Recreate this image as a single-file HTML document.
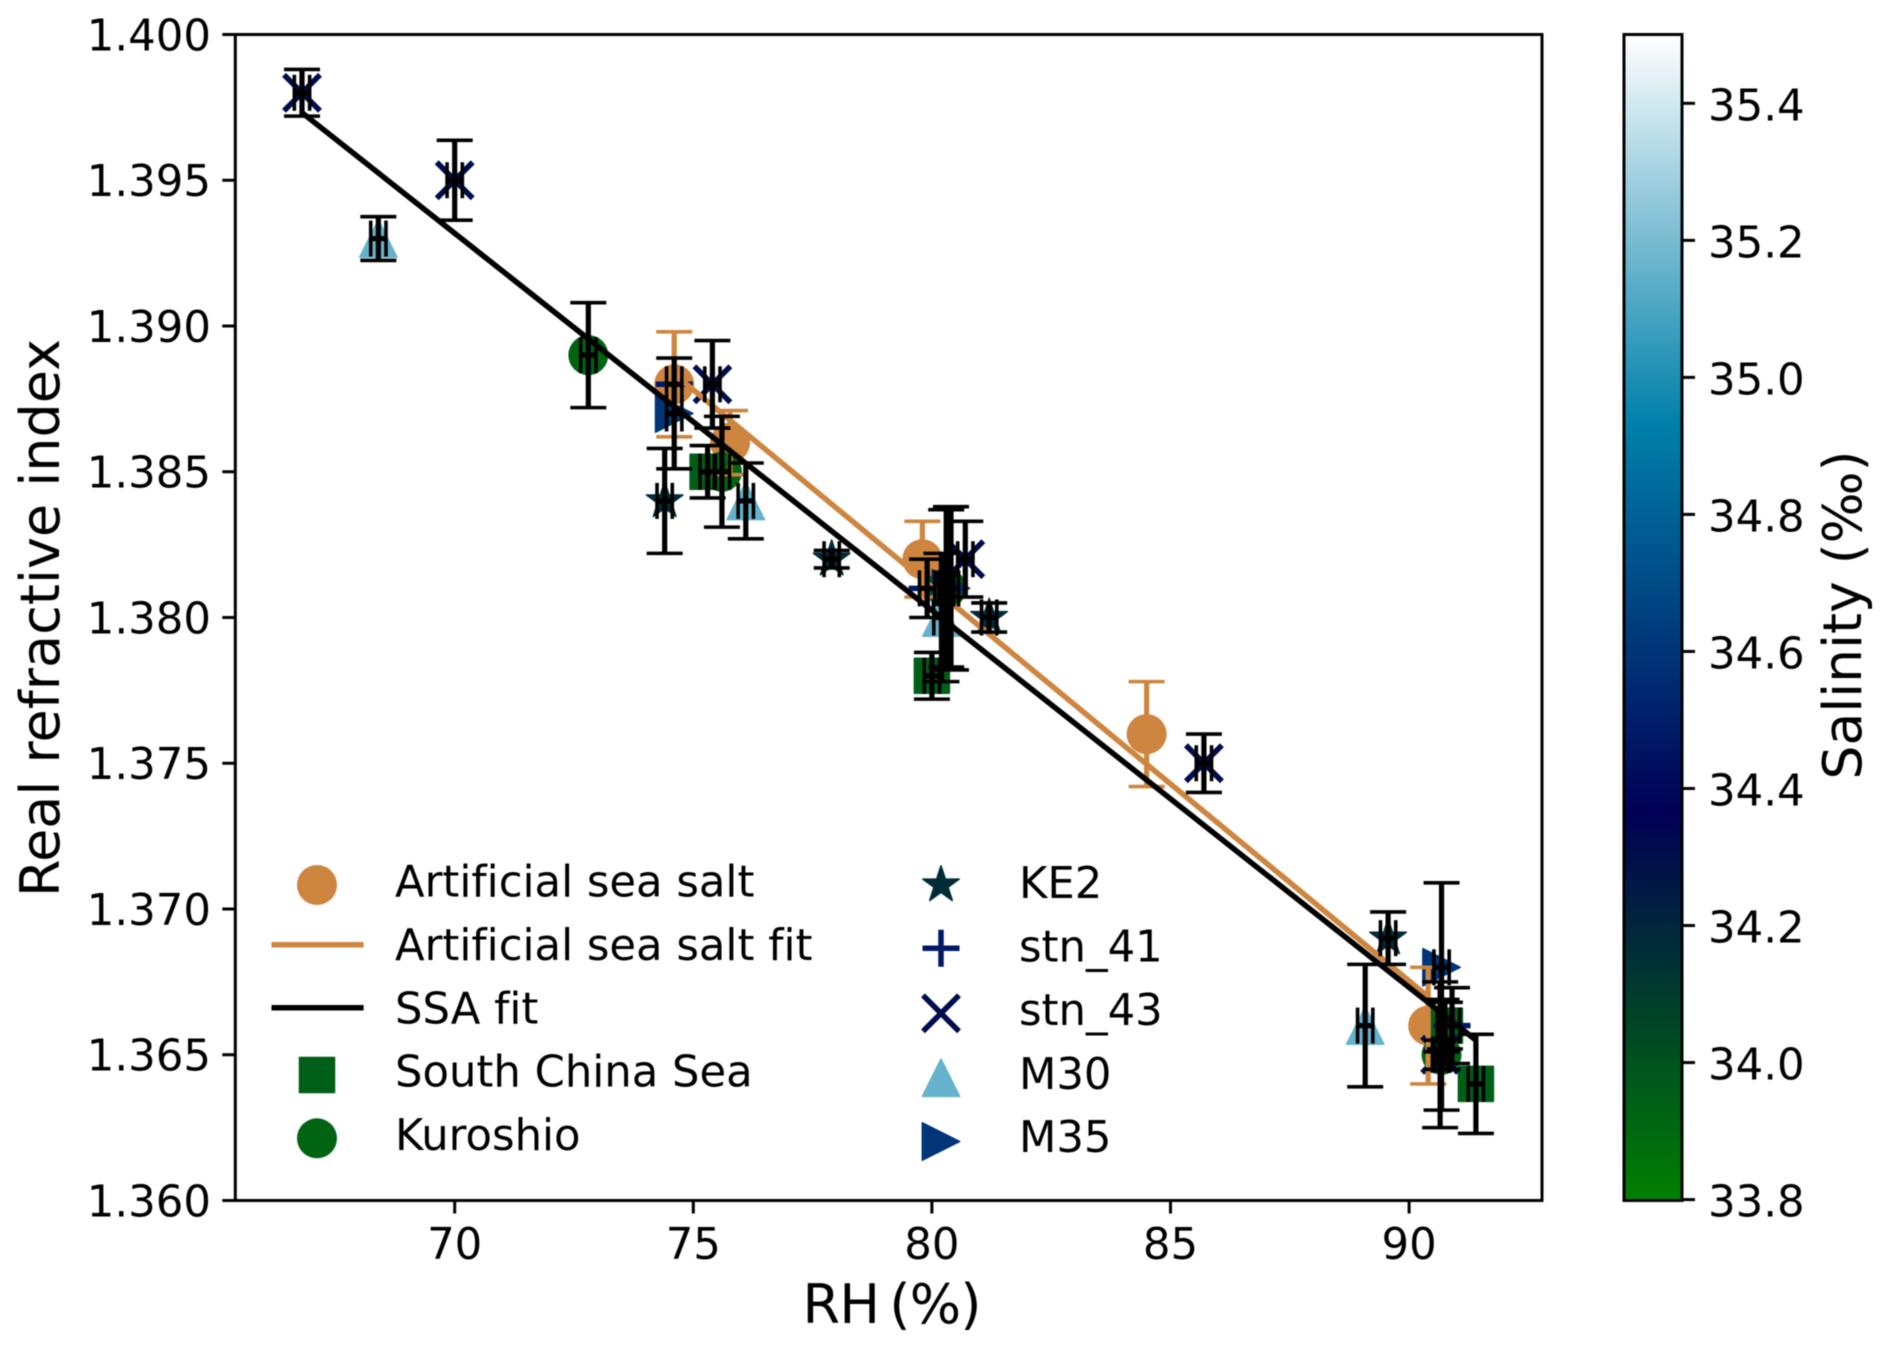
<!DOCTYPE html>
<html lang="en">
<head>
<meta charset="utf-8">
<title>Real refractive index vs RH</title>
<style>
html,body{margin:0;padding:0;background:#fff;}
svg{display:block;filter:blur(0.55px);}
text{font-family:"DejaVu Sans","Liberation Sans",sans-serif;fill:#000;font-variant-ligatures:none;}
.tick{font-size:43.4px;}
.leg{font-size:43.3px;}
.lab{font-size:54px;}
</style>
</head>
<body>
<svg id="chart" xmlns="http://www.w3.org/2000/svg" width="1892" height="1350" viewBox="0 0 1892 1350">
  <defs>
    <linearGradient id="oceanGrad" x1="0" y1="1" x2="0" y2="0">
      <stop offset="0" stop-color="rgb(0,128,0)"/>
      <stop offset="0.3333" stop-color="rgb(0,0,85)"/>
      <stop offset="0.6667" stop-color="rgb(0,128,170)"/>
      <stop offset="1" stop-color="rgb(255,255,255)"/>
    </linearGradient>
  </defs>
  <rect x="0" y="0" width="1892" height="1350" fill="#fff"/>
  <g id="plotMarks"></g>
  <g id="axes"></g>
  <rect x="235.3" y="34.5" width="1306.7" height="1166" fill="none" stroke="#000" stroke-width="3"/>
  <text class="lab" x="892" y="1323" text-anchor="middle" textLength="179" lengthAdjust="spacing">RH&#8201;(%)</text>
  <text class="lab" transform="translate(59,618) rotate(-90)" text-anchor="middle">Real refractive index</text>
  <g id="legend">
    <text class="leg" x="395" y="896.7">Artificial sea salt</text>
    <text class="leg" x="395" y="960">Artificial sea salt fit</text>
    <text class="leg" x="395" y="1023.3">SSA fit</text>
    <text class="leg" x="395" y="1086.7">South China Sea</text>
    <text class="leg" x="395" y="1150">Kuroshio</text>
    <text class="leg" x="1019" y="898">KE2</text>
    <text class="leg" x="1019" y="961.5">stn_41</text>
    <text class="leg" x="1019" y="1025">stn_43</text>
    <text class="leg" x="1019" y="1088.8">M30</text>
    <text class="leg" x="1019" y="1152.2">M35</text>
    <line x1="271.5" x2="363.6" y1="944.7" y2="944.7" stroke="#cd853f" stroke-width="5.5"/>
    <line x1="271.5" x2="363.6" y1="1007.7" y2="1007.7" stroke="#000" stroke-width="5.5"/>
  </g>
  <g id="colorbar">
    <rect x="1624" y="34.5" width="58" height="1166" fill="url(#oceanGrad)" stroke="#000" stroke-width="3"/>
  </g>
  <text class="lab" style="font-size:53.6px" transform="translate(1861,615) rotate(-90)" text-anchor="middle">Salinity (‰)</text>
</svg>
<script>
// ---- axis ticks ----
const xTickValues = [70, 75, 80, 85, 90];
const xTickLabels = ['70', '75', '80', '85', '90'];
const yTickValues = [1.360, 1.365, 1.370, 1.375, 1.380, 1.385, 1.390, 1.395, 1.400];
const yTickLabels = ['1.360', '1.365', '1.370', '1.375', '1.380', '1.385', '1.390', '1.395', '1.400'];
const cbTickValues = [33.8, 34.0, 34.2, 34.4, 34.6, 34.8, 35.0, 35.2, 35.4];
const cbTickLabels = ['33.8', '34.0', '34.2', '34.4', '34.6', '34.8', '35.0', '35.2', '35.4'];

// ---- series data: RH (%), real refractive index, error in refractive index ----
const artificialRH = [74.6, 75.77, 79.8, 84.5, 90.4];
const artificialRI = [1.388, 1.386, 1.382, 1.376, 1.366];
const artificialErr = [0.0018, 0.0011, 0.0013, 0.0018, 0.0020];

const scsRH = [75.3, 80.0, 90.75, 91.4];
const scsRI = [1.385, 1.378, 1.366, 1.364];
const scsErr = [0.0009, 0.0008, 0.0008, 0.0017];

const kuroshioRH = [72.8, 75.6, 80.3, 90.68];
const kuroshioRI = [1.389, 1.385, 1.381, 1.365];
const kuroshioErr = [0.0018, 0.0019, 0.0027, 0.0019];

const ke2RH = [74.4, 77.9, 81.2, 89.56, 90.7];
const ke2RI = [1.384, 1.382, 1.380, 1.369, 1.365];
const ke2Err = [0.0018, 0.0003, 0.0005, 0.0009, 0.0005];

const stn41RH = [74.6, 79.9, 90.9];
const stn41RI = [1.388, 1.381, 1.366];
const stn41Err = [0, 0.0010, 0.0013];

const stn43RH = [66.8, 70.0, 75.4, 80.7, 85.7, 90.65];
const stn43RI = [1.398, 1.395, 1.388, 1.382, 1.375, 1.365];
const stn43Err = [0.0008, 0.00137, 0.0015, 0.0013, 0.0010, 0.0025];

const m30RH = [68.4, 76.1, 80.2, 89.08];
const m30RI = [1.393, 1.384, 1.380, 1.366];
const m30Err = [0.00075, 0.0013, 0.0022, 0.0021];

const m35RH = [74.6, 80.4, 90.68];
const m35RI = [1.387, 1.381, 1.368];
const m35Err = [0.0019, 0.0028, 0.0029];

const artificialFitRH = [74.6, 90.4];
const artificialFitRI = [1.38835, 1.36699];
const ssaFitRH = [66.8, 91.4];
const ssaFitRI = [1.39732, 1.3655];

// RH uncertainty shared by all SSA samples
const rhError = 0.16;

// ---- scales ----
const X_DOMAIN = [70, 90];
const X_RANGE = [454.7, 1409.1];
const Y_DOMAIN = [1.360, 1.400];
const Y_RANGE = [1200.5, 34.5];
const S_DOMAIN = [33.8, 35.5];
const S_RANGE = [1199.6, 34.8];
const SVG_NS = 'http://www.w3.org/2000/svg';

function xScale(v) { return X_RANGE[0] + (v - X_DOMAIN[0]) * (X_RANGE[1] - X_RANGE[0]) / (X_DOMAIN[1] - X_DOMAIN[0]); }
function yScale(v) { return Y_RANGE[0] + (v - Y_DOMAIN[0]) * (Y_RANGE[1] - Y_RANGE[0]) / (Y_DOMAIN[1] - Y_DOMAIN[0]); }
function cbScale(v) { return S_RANGE[0] + (v - S_DOMAIN[0]) * (S_RANGE[1] - S_RANGE[0]) / (S_DOMAIN[1] - S_DOMAIN[0]); }

// matplotlib "ocean" colormap
function oceanColor(sal) {
  const t = Math.min(1, Math.max(0, (sal - S_DOMAIN[0]) / (S_DOMAIN[1] - S_DOMAIN[0])));
  const r = Math.max(0, 3 * t - 2);
  const g = Math.abs(3 * t - 1) / 2;
  const b = t;
  return 'rgb(' + Math.round(r * 255) + ',' + Math.round(g * 255) + ',' + Math.round(b * 255) + ')';
}

function svgEl(tag, attrs) {
  const el = document.createElementNS(SVG_NS, tag);
  for (const k in attrs) el.setAttribute(k, attrs[k]);
  return el;
}

function drawMarker(parent, kind, cx, cy, color, label) {
  let el;
  if (kind === 'circle') {
    el = svgEl('circle', { cx: cx, cy: cy, r: 20, fill: color });
  } else if (kind === 'square') {
    el = svgEl('rect', { x: cx - 17.5, y: cy - 17.5, width: 35, height: 35, fill: color, stroke: color, 'stroke-width': 1.5, 'stroke-linejoin': 'round' });
  } else if (kind === 'star') {
    const pts = [];
    for (let i = 0; i < 10; i++) {
      const rad = i % 2 === 0 ? 19.2 : 7.4;
      const a = -Math.PI / 2 + i * Math.PI / 5;
      pts.push((cx + rad * Math.cos(a)).toFixed(2) + ',' + (cy + rad * Math.sin(a)).toFixed(2));
    }
    el = svgEl('polygon', { points: pts.join(' '), fill: color, stroke: color, 'stroke-width': 1.5, 'stroke-linejoin': 'round' });
  } else if (kind === 'plus') {
    el = svgEl('path', { d: 'M' + (cx - 18.5) + ' ' + cy + 'H' + (cx + 18.5) + 'M' + cx + ' ' + (cy - 18.5) + 'V' + (cy + 18.5), fill: 'none', stroke: color, 'stroke-width': 5.5 });
  } else if (kind === 'x') {
    el = svgEl('path', { d: 'M' + (cx - 18) + ' ' + (cy - 18) + 'L' + (cx + 18) + ' ' + (cy + 18) + 'M' + (cx - 18) + ' ' + (cy + 18) + 'L' + (cx + 18) + ' ' + (cy - 18), fill: 'none', stroke: color, 'stroke-width': 5.5 });
  } else if (kind === 'triangle-up') {
    el = svgEl('polygon', { points: cx + ',' + (cy - 18.7) + ' ' + (cx - 18.7) + ',' + (cy + 18.7) + ' ' + (cx + 18.7) + ',' + (cy + 18.7), fill: color, stroke: color, 'stroke-width': 1.5, 'stroke-linejoin': 'round' });
  } else {
    el = svgEl('polygon', { points: (cx - 18.7) + ',' + (cy - 18.7) + ' ' + (cx + 18.7) + ',' + cy + ' ' + (cx - 18.7) + ',' + (cy + 18.7), fill: color, stroke: color, 'stroke-width': 1.5, 'stroke-linejoin': 'round' });
  }
  
  
  parent.appendChild(el);
}

const CAP = 18;
function segment(parent, x1, y1, x2, y2, color, width) {
  const ln = svgEl('line', { x1: x1, y1: y1, x2: x2, y2: y2, stroke: color, 'stroke-width': width });
  
  
  parent.appendChild(ln);
}

function drawError(parent, rh, ri, err, xErr, color) {
  const cx = xScale(rh);
  const cy = yScale(ri);
  if (err > 0) {
    const top = yScale(ri + err);
    const bot = yScale(ri - err);
    segment(parent, cx, top, cx, bot, color, 5.2);
    segment(parent, cx - CAP, top, cx + CAP, top, color, 3.6);
    segment(parent, cx - CAP, bot, cx + CAP, bot, color, 3.6);
  }
  if (xErr > 0) {
    const l = xScale(rh - xErr);
    const r = xScale(rh + xErr);
    segment(parent, l, cy, r, cy, color, 5.2);
    segment(parent, l, cy - CAP, l, cy + CAP, color, 3.6);
    segment(parent, r, cy - CAP, r, cy + CAP, color, 3.6);
  }
}

const artificialColor = '#cd853f';
const seriesList = [
  { id: 'artificial-sea-salt', kind: 'circle', color: artificialColor, rh: artificialRH, ri: artificialRI, err: artificialErr },
  { id: 'south-china-sea', kind: 'square', color: oceanColor(33.945), rh: scsRH, ri: scsRI, err: scsErr },
  { id: 'kuroshio', kind: 'circle', color: oceanColor(33.92), rh: kuroshioRH, ri: kuroshioRI, err: kuroshioErr },
  { id: 'ke2', kind: 'star', color: oceanColor(34.17), rh: ke2RH, ri: ke2RI, err: ke2Err },
  { id: 'm30', kind: 'triangle-up', color: oceanColor(35.16), rh: m30RH, ri: m30RI, err: m30Err },
  { id: 'm35', kind: 'triangle-right', color: oceanColor(34.6), rh: m35RH, ri: m35RI, err: m35Err },
  { id: 'stn-43', kind: 'x', color: oceanColor(34.31), rh: stn43RH, ri: stn43RI, err: stn43Err },
  { id: 'stn-41', kind: 'plus', color: oceanColor(34.48), rh: stn41RH, ri: stn41RI, err: stn41Err }
];

const plot = document.getElementById('plotMarks');

// markers
seriesList.forEach(function (s) {
  const g = svgEl('g', {});
  
  
  plot.appendChild(g);
  s.rh.forEach(function (v, i) {
    drawMarker(g, s.kind, xScale(v), yScale(s.ri[i]), s.color, 'point-' + s.id);
  });
});

// artificial sea salt error bars (orange, RH error not drawn)
const artificialErrGroup = svgEl('g', {});


plot.appendChild(artificialErrGroup);
artificialRH.forEach(function (v, i) {
  drawError(artificialErrGroup, v, artificialRI[i], artificialErr[i], 0, artificialColor);
});

// fits
const artificialFit = svgEl('line', { x1: xScale(artificialFitRH[0]), y1: yScale(artificialFitRI[0]), x2: xScale(artificialFitRH[1]), y2: yScale(artificialFitRI[1]), stroke: artificialColor, 'stroke-width': 5.5 });


plot.appendChild(artificialFit);

const ssaFit = svgEl('line', { x1: xScale(ssaFitRH[0]), y1: yScale(ssaFitRI[0]), x2: xScale(ssaFitRH[1]), y2: yScale(ssaFitRI[1]), stroke: '#000', 'stroke-width': 5.5 });


plot.appendChild(ssaFit);

// black error bars for SSA samples
seriesList.forEach(function (s) {
  if (s.id === 'artificial-sea-salt') return;
  const g = svgEl('g', {});
  
  
  plot.appendChild(g);
  s.rh.forEach(function (v, i) {
    drawError(g, v, s.ri[i], s.err[i], rhError, '#000');
  });
});

// axes
const axes = document.getElementById('axes');
xTickValues.forEach(function (v, i) {
  const px = xScale(v);
  const t = svgEl('line', { x1: px, x2: px, y1: 1200.5, y2: 1213.5, stroke: '#000', 'stroke-width': 3 });
  
  
  axes.appendChild(t);
  const lb = svgEl('text', { x: px, y: 1259, 'text-anchor': 'middle', 'class': 'tick' });
  
  
  lb.textContent = xTickLabels[i];
  axes.appendChild(lb);
});
yTickValues.forEach(function (v, i) {
  const py = yScale(v);
  const t = svgEl('line', { x1: 222.3, x2: 235.3, y1: py, y2: py, stroke: '#000', 'stroke-width': 3 });
  
  
  axes.appendChild(t);
  const lb = svgEl('text', { x: 211, y: py + 15.8, 'text-anchor': 'end', 'class': 'tick' });
  
  
  lb.textContent = yTickLabels[i];
  axes.appendChild(lb);
});

// colorbar ticks
const cb = document.getElementById('colorbar');
cbTickValues.forEach(function (v, i) {
  const py = cbScale(v);
  const t = svgEl('line', { x1: 1682, x2: 1695, y1: py, y2: py, stroke: '#000', 'stroke-width': 3 });
  
  
  cb.appendChild(t);
  const lb = svgEl('text', { x: 1708, y: py + 17, 'class': 'tick' });
  
  
  lb.textContent = cbTickLabels[i];
  cb.appendChild(lb);
});

// legend markers
const legend = document.getElementById('legend');
drawMarker(legend, 'circle', 317, 885, artificialColor, 'legend-marker-artificial-sea-salt');
drawMarker(legend, 'square', 317, 1075, oceanColor(33.945), 'legend-marker-south-china-sea');
drawMarker(legend, 'circle', 317, 1138.3, oceanColor(33.92), 'legend-marker-kuroshio');
drawMarker(legend, 'star', 941, 885, oceanColor(34.17), 'legend-marker-ke2');
drawMarker(legend, 'plus', 941, 948.3, oceanColor(34.48), 'legend-marker-stn-41');
drawMarker(legend, 'x', 941, 1013.3, oceanColor(34.31), 'legend-marker-stn-43');
drawMarker(legend, 'triangle-up', 941, 1077.7, oceanColor(35.16), 'legend-marker-m30');
drawMarker(legend, 'triangle-right', 941, 1141.5, oceanColor(34.6), 'legend-marker-m35');
</script>
</body>
</html>
